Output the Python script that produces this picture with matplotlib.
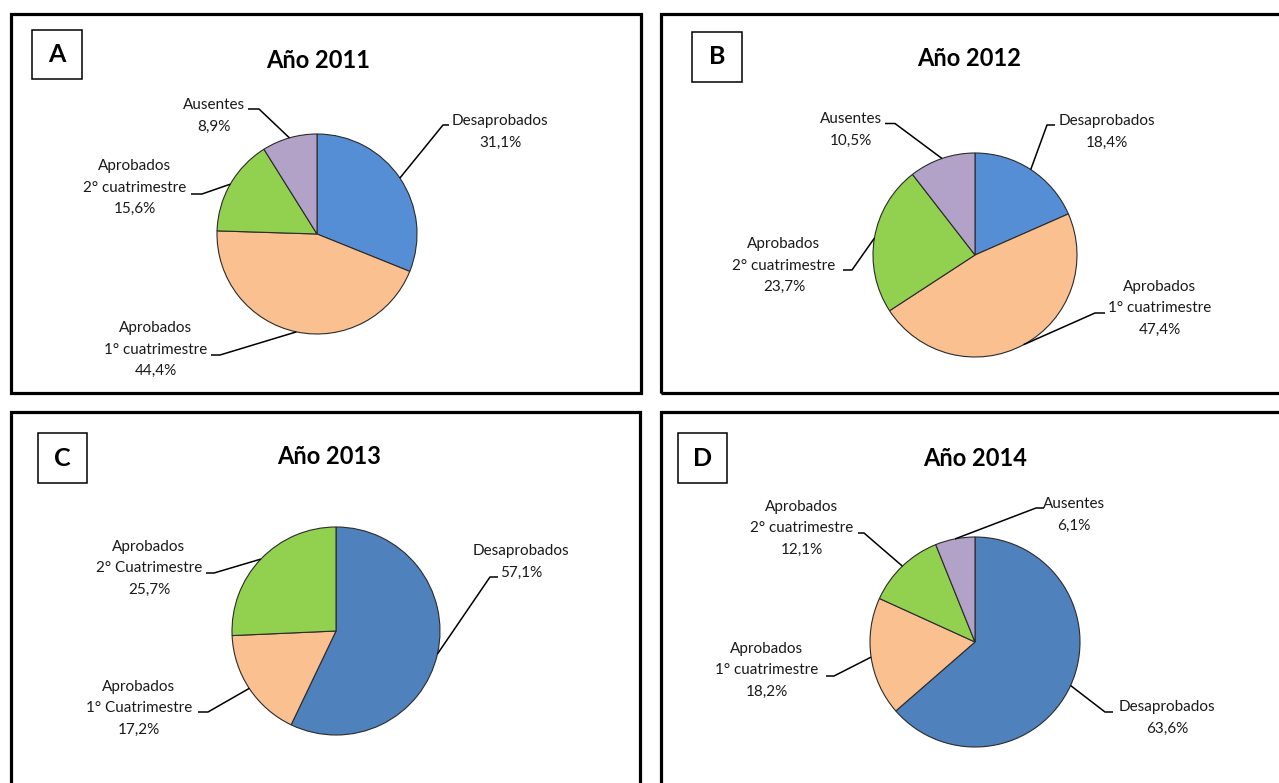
import numpy as np
import matplotlib
matplotlib.use("Agg")
import matplotlib.pyplot as plt
from matplotlib.patches import Rectangle

# ---------------- data ----------------
categories_ab = ["Desaprobados", "Aprobados\n1° cuatrimestre", "Aprobados\n2° cuatrimestre", "Ausentes"]
categories_c = ["Desaprobados", "Aprobados\n1° Cuatrimestre", "Aprobados\n2° Cuatrimestre"]
values_2011 = [31.1, 44.4, 15.6, 8.9]
values_2012 = [18.4, 47.4, 23.7, 10.5]
values_2013 = [57.1, 17.2, 25.7]
values_2014 = [63.6, 18.2, 12.1, 6.1]
titles = ["Año 2011", "Año 2012", "Año 2013", "Año 2014"]
panel_letters = ["A", "B", "C", "D"]

colors_light = ["#558ED5", "#FAC090", "#92D050", "#B3A2C7"]
colors_dark = ["#4F81BD", "#FAC090", "#92D050", "#B3A2C7"]

W, H = 1279, 783
FONT = "Lato"

# ---------------- layout (pixel coords, y down) ----------------
panels = [
    dict(cats=categories_ab, vals=values_2011, cols=colors_light, title=titles[0], letter=panel_letters[0],
         frame=(10.5, 14, 640.5, 393), box=(32, 30, 82, 79), title_xy=(318, 60),
         center=(317, 234), r=100,
         labels=[(500, 121, 449, 443, 125), (156, 328, 211, 220, 355),
                 (135, 166, 191, 202, 194), (214, 105, 248, 259, 109)]),
    dict(cats=categories_ab, vals=values_2012, cols=colors_light, title=titles[1], letter=panel_letters[1],
         frame=(660.5, 14, 1300, 393), box=(692, 32, 742, 82), title_xy=(969, 58),
         center=(975, 255), r=102,
         labels=[(1107, 121, 1055, 1047, 125), (1160, 287, 1105, 1095, 313),
                 (784, 244, 843, 852, 270), (851, 119, 885, 895, 123.5)]),
    dict(cats=categories_c, vals=values_2013, cols=colors_dark, title=titles[2], letter=panel_letters[2],
         frame=(10.5, 411.5, 640, 800), box=(38, 433, 87, 483), title_xy=(329, 457),
         center=(336, 631), r=104,
         labels=[(521, 551, 498, 490, 577), (139, 687, 198, 208, 712),
                 (149, 547, 206, 214, 573)]),
    dict(cats=categories_ab, vals=values_2014, cols=colors_dark, title=titles[3], letter=panel_letters[3],
         frame=(660.5, 411.5, 1300, 800), box=(678, 433, 727, 483), title_xy=(975, 458),
         center=(975, 642), r=105,
         labels=[(1167, 707, 1113, 1105, 712), (767, 649, 826, 834, 676),
                 (802, 507, 858, 864, 533), (1074, 504, 1044, 1036, 508)]),
]

fig = plt.figure(figsize=(W / 100, H / 100), dpi=100)
ax = fig.add_axes([0, 0, 1, 1])


def Y(y):
    return H - y


LINE_PITCH = 21.5

for p in panels:
    x0, y0, x1, y1 = p["frame"]
    ax.add_patch(Rectangle((x0, Y(y1)), x1 - x0, y1 - y0, fill=False, edgecolor="black",
                           linewidth=2.3, zorder=1))
    bx0, by0, bx1, by1 = p["box"]
    ax.add_patch(Rectangle((bx0, Y(by1)), bx1 - bx0, by1 - by0, fill=False, edgecolor="black",
                           linewidth=1.1, zorder=1))
    ax.text((bx0 + bx1) / 2, Y((by0 + by1) / 2), p["letter"], ha="center", va="center",
            fontsize=18, fontweight="bold", family=FONT)
    ax.text(p["title_xy"][0], Y(p["title_xy"][1]), p["title"], ha="center", va="center",
            fontsize=17, fontweight="bold", family=FONT)

    cx, cy = p["center"]
    r = p["r"]
    wedges, _ = ax.pie(p["vals"], colors=p["cols"][:len(p["vals"])], startangle=90,
                       counterclock=False, center=(cx, Y(cy)), radius=r, frame=True,
                       wedgeprops=dict(edgecolor="#2b2b2b", linewidth=0.8))

    for w, cat, val, lab in zip(wedges, p["cats"], p["vals"], p["labels"]):
        tx, ty1, sx0, sx1, sy = lab
        lines = cat.split("\n") + [f"{val:.1f}".replace(".", ",") + "%"]
        for i, ln in enumerate(lines):
            ax.text(tx, Y(ty1 + LINE_PITCH * i), ln, ha="center", va="center",
                    fontsize=11, family=FONT, color="#1a1a1a")
        mid = np.deg2rad((w.theta1 + w.theta2) / 2)
        px = cx + r * np.cos(mid)
        py = Y(cy) + r * np.sin(mid)
        ax.plot([sx0, sx1, px], [Y(sy), Y(sy), py], color="black", linewidth=1.1,
                solid_capstyle="butt", zorder=3)

ax.set_xlim(0, W)
ax.set_ylim(0, H)
ax.set_aspect("equal")
ax.axis("off")

fig.savefig("out.png", dpi=100, facecolor="white")
